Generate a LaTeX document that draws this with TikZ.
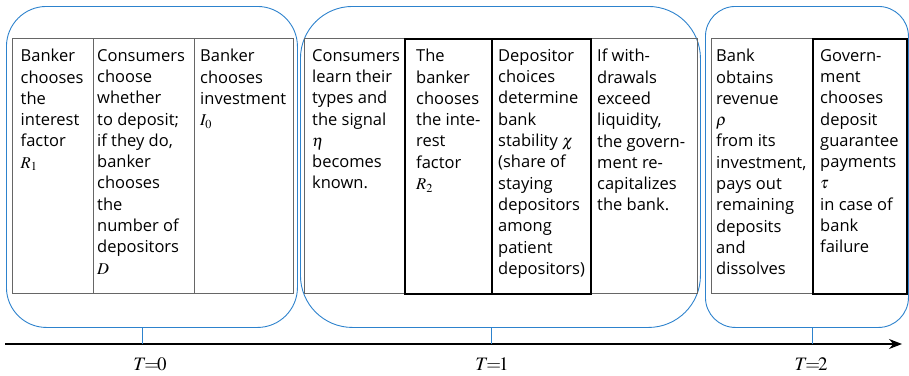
\documentclass[tikz,border=0pt]{standalone}
\usepackage{mathptmx}
\usepackage{fontspec}
\setmainfont{Open Sans}
\usetikzlibrary{arrows.meta}
\definecolor{frameblue}{RGB}{45,130,205}

\begin{document}
\begin{tikzpicture}[x=1pt,y=-1pt,
	period/.style={draw=frameblue, line width=0.9pt, anchor=north west, inner sep=0pt, minimum height=321pt},
	cell/.style={draw=black!60, line width=0.8pt, anchor=north west, inner sep=0pt, minimum height=255pt},
	heavy/.style={cell, draw=black, line width=2pt},
	txt/.style={anchor=north west, inner sep=0pt, align=left, font=\fontsize{16.5}{21.3}\selectfont},
	tick/.style={draw=frameblue, line width=0.9pt},
	time/.style={anchor=base, inner sep=0pt, font=\fontsize{19}{22}\selectfont}]

	\useasboundingbox (0,0) rectangle (909,375);

	\node[period, rounded corners=40pt, minimum width=291pt] (p0) at (6,6) {};
	\node[period, rounded corners=52pt, minimum width=400pt] (p1) at (300,6) {};
	\node[period, rounded corners=30pt, minimum width=203pt] (p2) at (705,6) {};

	\node[cell, minimum width=81pt] (c1) at (12,38) {};
	\node[cell, minimum width=101pt] (c2) at (93,38) {};
	\node[cell, minimum width=99pt] (c3) at (194,38) {};
	\node[cell, minimum width=100pt] (c4) at (304,38) {};
	\node[cell, minimum width=107pt] (c7) at (590,38) {};
	\node[cell, minimum width=101pt] (c8) at (711,38) {};
	\node[heavy, minimum width=87pt] (c5) at (404,38) {};
	\node[heavy, minimum width=99pt] (c6) at (491,38) {};
	\node[heavy, minimum width=94pt] (c9) at (812,38) {};

	\node[txt] (t1) at ([shift={(8.5,11)}]c1.north west) {Banker\\chooses\\the\\interest\\factor\\$R_1$};
	\node[txt] (t2) at ([shift={(4,11)}]c2.north west) {Consumers\\choose\\whether\\to deposit;\\if they do,\\banker\\chooses\\the\\number of\\depositors\\$D$};
	\node[txt] (t3) at ([shift={(6,11)}]c3.north west) {Banker\\chooses\\investment\\$I_0$};
	\node[txt] (t4) at ([shift={(8,11)}]c4.north west) {Consumers\\learn their\\types and\\the signal\\$\eta$\\becomes\\known.};
	\node[txt] (t5) at ([shift={(12,11)}]c5.north west) {The\\banker\\chooses\\the inte-\\rest\\factor\\$R_2$};
	\node[txt] (t6) at ([shift={(7,11)}]c6.north west) {Depositor\\choices\\determine\\bank\\stability $\chi$\\(share of\\staying\\depositors\\among\\patient\\depositors)};
	\node[txt] (t7) at ([shift={(7,11)}]c7.north west) {If with-\\drawals\\exceed\\liquidity,\\the govern-\\ment re-\\capitalizes\\the bank.};
	\node[txt] (t8) at ([shift={(5,11)}]c8.north west) {Bank\\obtains\\revenue\\$\rho$\\from its\\investment,\\pays out\\remaining\\deposits\\and\\dissolves};
	\node[txt] (t9) at ([shift={(8,11)}]c9.north west) {Govern-\\ment\\chooses\\deposit\\guarantee\\payments\\$\tau$\\in case of\\bank\\failure};

	\coordinate (a0) at (5,344);
	\coordinate (a1) at (902,344);
	\draw[line width=1.2pt, -{Stealth[length=13pt,width=10pt]}] (a0) -- (a1);

	\coordinate (k0) at (142,344);
	\coordinate (k1) at (491,344);
	\coordinate (k2) at (812,344);
	\draw[tick] (k0) -- (k0 |- p0.south);
	\draw[tick] (k1) -- (k1 |- p1.south);
	\draw[tick] (k2) -- (k2 |- p2.south);

	\node[time] (T0) at (150,370) {$T\!{=}\!0$};
	\node[time] (T1) at (492,370) {$T\!{=}\!1$};
	\node[time] (T2) at (811,370) {$T\!{=}\!2$};
\end{tikzpicture}
\end{document}
